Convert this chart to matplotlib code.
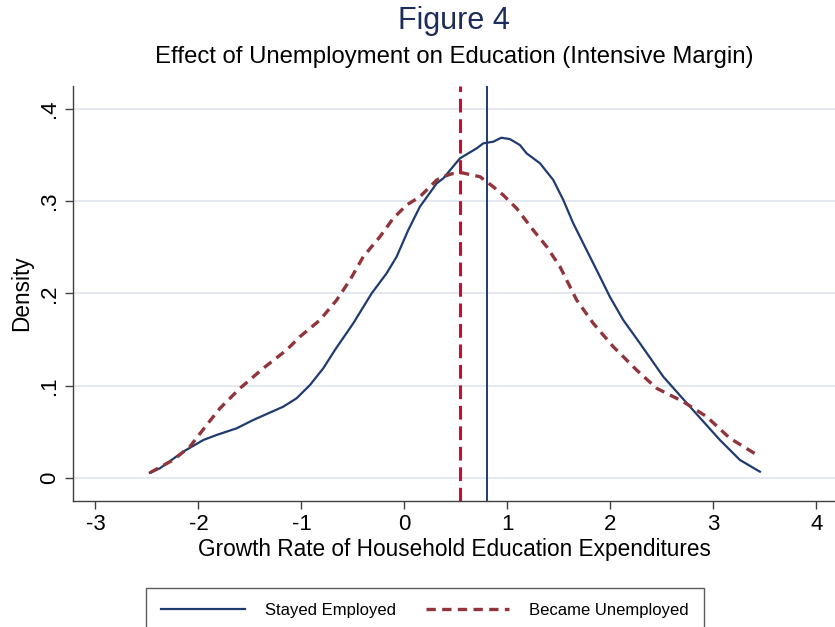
import numpy as np
import matplotlib.pyplot as plt

# kernel density curves
employed_x = [-2.471, -2.374, -2.148, -1.953, -1.823, -1.629, -1.468, -1.177, -1.047,
              -0.917, -0.788, -0.675, -0.497, -0.318, -0.173, -0.076, 0.037, 0.150,
              0.313, 0.377, 0.539, 0.701, 0.765, 0.862, 0.940, 1.024, 1.121, 1.186,
              1.316, 1.445, 1.542, 1.639, 1.736, 1.898, 1.994, 2.124, 2.286,
              2.513, 2.772, 3.063, 3.257, 3.451]
employed_y = [0.0057, 0.0105, 0.0285, 0.0411, 0.0466, 0.0538, 0.0628, 0.0772, 0.0863,
              0.1007, 0.1188, 0.1386, 0.1675, 0.2000, 0.2217, 0.2396, 0.2685, 0.2938,
              0.3191, 0.3245, 0.3462, 0.3570, 0.3624, 0.3642, 0.3685, 0.3670, 0.3606,
              0.3516, 0.3408, 0.3227, 0.3011, 0.2758, 0.2541, 0.2180, 0.1963,
              0.1711, 0.1459, 0.1097, 0.0772, 0.0411, 0.0195, 0.0068]

unemployed_x = [-2.471, -2.245, -2.083, -1.920, -1.791, -1.597, -1.371, -1.144, -1.015,
                -0.820, -0.658, -0.529, -0.400, -0.238, -0.109, 0.021, 0.150, 0.313,
                0.377, 0.461, 0.555, 0.733, 0.862, 0.959, 1.089, 1.250, 1.381, 1.510,
                1.672, 1.833, 2.027, 2.254, 2.449, 2.707, 2.934, 3.160, 3.451]
unemployed_y = [0.0057, 0.0195, 0.0339, 0.0574, 0.0755, 0.0971, 0.1188, 0.1386, 0.1530,
                0.1711, 0.1927, 0.2144, 0.2396, 0.2613, 0.2812, 0.2956, 0.3046, 0.3227,
                0.3263, 0.3295, 0.3306, 0.3263, 0.3154, 0.3064, 0.2920, 0.2685, 0.2505,
                0.2288, 0.1927, 0.1675, 0.1422, 0.1169, 0.0971, 0.0826, 0.0664, 0.0430,
                0.0231]

mean_employed = 0.80
mean_unemployed = 0.54

xticks = [-3, -2, -1, 0, 1, 2, 3, 4]
yticks = [0, 0.1, 0.2, 0.3, 0.4]
ytick_labels = ['0', '.1', '.2', '.3', '.4']

navy = '#1f3b70'
maroon = '#90353b'
crimson = '#c8102e'
axis_col = '#404040'

plt.rcParams['font.family'] = ['Liberation Sans', 'DejaVu Sans']
plt.rcParams['axes.unicode_minus'] = False

fig = plt.figure(figsize=(8.35, 6.27), dpi=100)
ax = fig.add_axes([0.0874, 0.201, 0.9126, 0.6618])

ax.plot(employed_x, employed_y, color=navy, lw=1.6, label='Stayed Employed', zorder=3)
ax.plot(unemployed_x, unemployed_y, color=maroon, lw=2.4, dashes=(2.8, 1.9),
        label='Became Unemployed', zorder=3)
ax.axvline(mean_unemployed, color=crimson, lw=2.2, dashes=(4.5, 2.2), zorder=4)
ax.axvline(mean_employed, color=navy, lw=1.4, zorder=4)

ax.set_xlim(-3.218, 4.18)
ax.set_ylim(-0.0249, 0.4245)
ax.set_xticks(xticks)
ax.set_yticks(yticks)
ax.set_yticklabels(ytick_labels, rotation=90, va='center')
ax.grid(axis='y', color='#e1e6f0', lw=1.3, zorder=0)
ax.tick_params(direction='out', length=6, width=1, color=axis_col, labelsize=16)
for s in ['top', 'right']:
    ax.spines[s].set_visible(False)
for s in ['left', 'bottom']:
    ax.spines[s].set_color(axis_col)
    ax.spines[s].set_linewidth(1)

ax.set_xlabel('Growth Rate of Household Education Expenditures', fontsize=16.3, labelpad=2)
ax.set_ylabel('Density', fontsize=16.3, labelpad=4)

fig.text(0.5437, 0.967, 'Figure 4', ha='center', va='center', fontsize=22, color='#1c2d5c')
fig.text(0.5437, 0.909, 'Effect of Unemployment on Education (Intensive Margin)',
         ha='center', va='center', fontsize=17.2)

leg = fig.legend(loc='upper center', bbox_to_anchor=(0.509, 0.0622), ncol=2,
                 fontsize=12, frameon=True, fancybox=False, handlelength=5,
                 handletextpad=1.2, columnspacing=1.8, borderpad=0.9,
                 borderaxespad=0, edgecolor='#333333')
leg.get_frame().set_linewidth(1)

fig.savefig('out.png', dpi=100)
